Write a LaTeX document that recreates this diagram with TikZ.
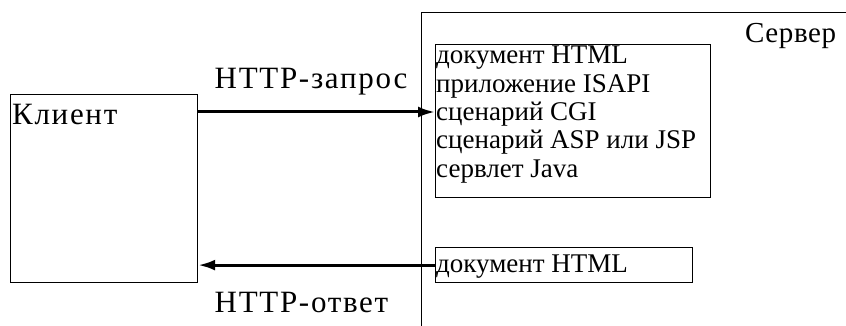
\documentclass[tikz,border=0pt]{standalone}
\usepackage{fontspec}
\setmainfont{Liberation Serif}
\usetikzlibrary{arrows.meta}

\newcommand\bigtext{\fontsize{31}{31}\selectfont\addfontfeatures{LetterSpace=5.5}}
\newcommand\listtext{\fontsize{27}{28.3}\selectfont}

\tikzset{
  box/.style={draw,line width=1.2pt,inner sep=0pt,anchor=north west},
  boxtext/.style={inner sep=1pt,align=left,font=\listtext},
  lbl/.style={anchor=base west,inner sep=0pt,font=\bigtext},
  http/.style={line width=3pt,-{Latex[length=17pt,width=11pt]}},
}

\begin{document}
\begin{tikzpicture}[x=1pt,y=-1pt]
\useasboundingbox (0,0) rectangle (846,326);
\clip (0,0) rectangle (846,326);

% client
\node[box,minimum width=187pt,minimum height=188pt] (client) at (10,94) {};
\node[lbl] (clientlbl) at ([xshift=2pt,yshift=-31pt]client.north west) {Клиент};

% server, runs off the right and bottom
\node[box,minimum width=500pt,minimum height=400pt] (server) at (421,12) {};
\node[lbl,font=\fontsize{29}{29}\selectfont\addfontfeatures{LetterSpace=2}] (serverlbl) at ([xshift=324pt,yshift=-31pt]server.north west) {Сервер};

% what the server can answer with
\node[box,minimum width=275pt,minimum height=153pt] (list) at (435,44) {};
\node[boxtext,anchor=north west] (listtxt) at ([yshift=-1pt]list.north west) {документ HTML\\приложение ISAPI\\сценарий CGI\\сценарий ASP или JSP\\сервлет Java};

\node[box,minimum width=257pt,minimum height=35pt] (doc) at (435,247) {};
\node[boxtext,anchor=base west,inner sep=0pt] (doctxt) at ([xshift=1pt,yshift=-25pt]doc.north west) {документ HTML};

% request and response
\draw[http] (client.east |- 0,112) -- node[lbl,pos=0,xshift=15pt,yshift=23pt] (reqlbl) {HTTP-запрос} (list.west |- 0,112);
\draw[http] (doc.west) -- node[lbl,pos=1,xshift=15pt,yshift=-47pt] (resplbl) {HTTP-ответ} (client.east |- doc.west);
\end{tikzpicture}
\end{document}
